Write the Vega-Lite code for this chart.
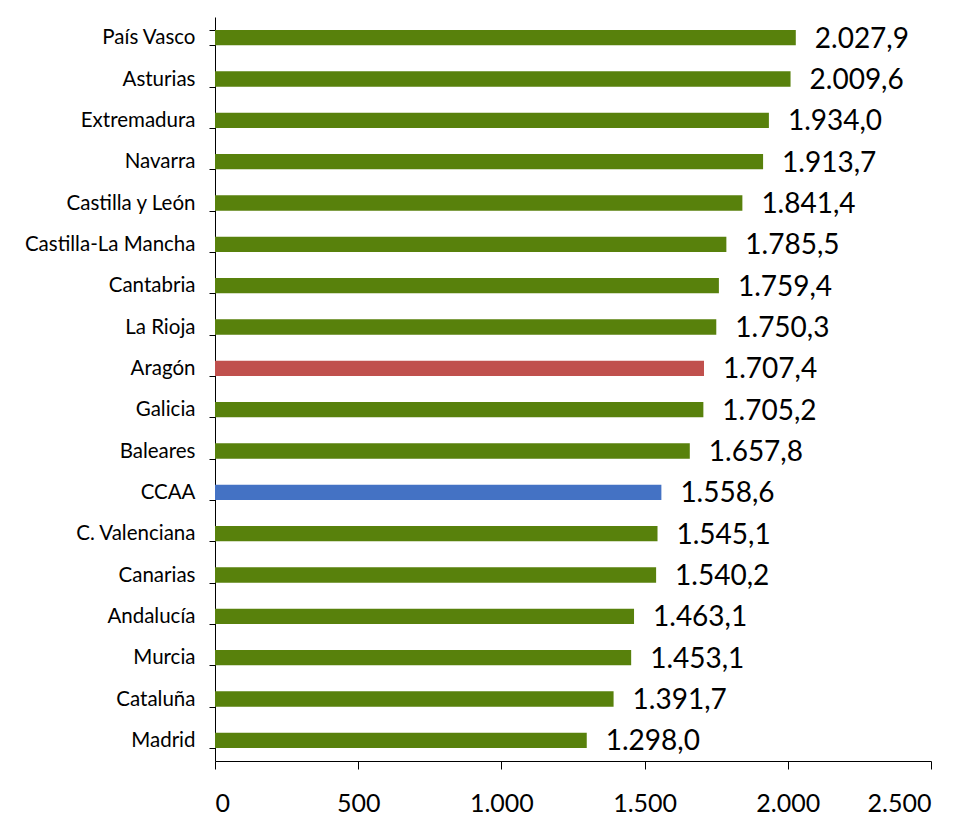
{
  "$schema": "https://vega.github.io/schema/vega-lite/v6.json",
  "autosize": "none",
  "width": 716,
  "height": 744,
  "padding": {"left": 215, "top": 17, "right": 40, "bottom": 55},
  "background": "white",
  "config": {
    "view": {"stroke": null},
    "font": "Lato",
    "locale": {"number": {"decimal": ",", "thousands": ".", "grouping": [3], "currency": ["", " €"]}}
  },
  "data": {
    "values": [
      {"region": "País Vasco", "value": 2027.9, "group": "CA"},
      {"region": "Asturias", "value": 2009.6, "group": "CA"},
      {"region": "Extremadura", "value": 1934.0, "group": "CA"},
      {"region": "Navarra", "value": 1913.7, "group": "CA"},
      {"region": "Castilla y León", "value": 1841.4, "group": "CA"},
      {"region": "Castilla-La Mancha", "value": 1785.5, "group": "CA"},
      {"region": "Cantabria", "value": 1759.4, "group": "CA"},
      {"region": "La Rioja", "value": 1750.3, "group": "CA"},
      {"region": "Aragón", "value": 1707.4, "group": "Aragón"},
      {"region": "Galicia", "value": 1705.2, "group": "CA"},
      {"region": "Baleares", "value": 1657.8, "group": "CA"},
      {"region": "CCAA", "value": 1558.6, "group": "CCAA"},
      {"region": "C. Valenciana", "value": 1545.1, "group": "CA"},
      {"region": "Canarias", "value": 1540.2, "group": "CA"},
      {"region": "Andalucía", "value": 1463.1, "group": "CA"},
      {"region": "Murcia", "value": 1453.1, "group": "CA"},
      {"region": "Cataluña", "value": 1391.7, "group": "CA"},
      {"region": "Madrid", "value": 1298.0, "group": "CA"}
    ]
  },
  "encoding": {
    "y": {
      "field": "region", "type": "nominal", "sort": null, "title": null,
      "scale": {"paddingInner": 0.63, "paddingOuter": 0.315},
      "axis": {
        "tickBand": "extent", "tickSize": 6, "tickColor": "black", "domainColor": "black",
        "labelFontSize": 20.5, "labelColor": "black", "labelPadding": 14, "labelFont": "Lato", "labelLimit": 0
      }
    },
    "x": {
      "field": "value", "type": "quantitative", "title": null,
      "scale": {"domain": [0, 2500]},
      "axis": {
        "values": [0, 500, 1000, 1500, 2000, 2500], "format": ",.0f", "grid": false,
        "tickSize": 8, "tickColor": "black", "domainColor": "black",
        "labelFontSize": 25, "labelColor": "black", "labelPadding": 22, "labelFont": "Lato"
      }
    }
  },
  "layer": [
    {
      "mark": {"type": "bar"},
      "encoding": {
        "color": {
          "field": "group", "type": "nominal", "legend": null,
          "scale": {"domain": ["CA", "Aragón", "CCAA"], "range": ["#58810C", "#C0504D", "#4472C4"]}
        }
      }
    },
    {
      "mark": {"type": "text", "align": "left", "baseline": "middle", "dx": 19, "dy": 2, "fontSize": 28, "color": "black", "font": "Lato"},
      "encoding": {
        "text": {"field": "value", "type": "quantitative", "format": ",.1f"}
      }
    }
  ]
}
